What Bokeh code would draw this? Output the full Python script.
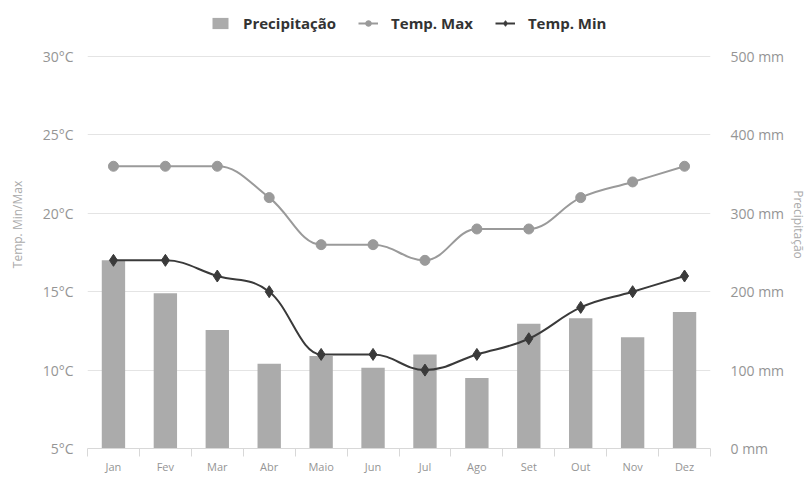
from bokeh.plotting import figure
from bokeh.models import (Range1d, LinearAxis, FixedTicker, PrintfTickFormatter,
                          Legend, LegendItem, ColumnDataSource)
from bokeh.embed import file_html
from bokeh.resources import INLINE

months = ["Jan", "Fev", "Mar", "Abr", "Maio", "Jun", "Jul", "Ago", "Set", "Out", "Nov", "Dez"]
precip = [240, 198, 151, 108, 118, 103, 120, 90, 159, 166, 142, 174]
temp_max = [23, 23, 23, 21, 18, 18, 17, 19, 19, 21, 22, 23]
temp_min = [17, 17, 16, 15, 11, 11, 10, 11, 12, 14, 15, 16]
temp_ticks = [5, 10, 15, 20, 25, 30]
precip_ticks = [0, 100, 200, 300, 400, 500]

xs = list(range(1, len(months) + 1))
FONT = "Open Sans"

# layout: the plot frame is extended above the 30°C / 500 mm line to hold the legend
FRAME_H = 448
PX_PER_DEG = 392 / 25.0
PX_PER_MM = 392 / 500.0


def spline_segments(x, y, smoothing=1.5):
    n = len(x)
    lc = [None] * n
    rc = [None] * n
    for i in range(n):
        px, py = x[i], y[i]
        if i == 0 or i == n - 1:
            lc[i] = (px, py)
            rc[i] = (px, py)
            continue
        lx, ly = x[i - 1], y[i - 1]
        nx, ny = x[i + 1], y[i + 1]
        d = smoothing + 1
        lcx = (smoothing * px + lx) / d
        lcy = (smoothing * py + ly) / d
        rcx = (smoothing * px + nx) / d
        rcy = (smoothing * py + ny) / d
        if rcx != lcx:
            corr = ((rcy - lcy) * (rcx - px)) / (rcx - lcx) + py - rcy
            lcy += corr
            rcy += corr
        if lcy > ly and lcy > py:
            lcy = max(ly, py); rcy = 2 * py - lcy
        elif lcy < ly and lcy < py:
            lcy = min(ly, py); rcy = 2 * py - lcy
        if rcy > ny and rcy > py:
            rcy = max(ny, py); lcy = 2 * py - rcy
        elif rcy < ny and rcy < py:
            rcy = min(ny, py); lcy = 2 * py - rcy
        lc[i] = (lcx, lcy)
        rc[i] = (rcx, rcy)
    return dict(
        x0=x[:-1], y0=y[:-1], x1=x[1:], y1=y[1:],
        cx0=[rc[i][0] for i in range(n - 1)], cy0=[rc[i][1] for i in range(n - 1)],
        cx1=[lc[i + 1][0] for i in range(n - 1)], cy1=[lc[i + 1][1] for i in range(n - 1)],
    )


p = figure(frame_width=623, frame_height=FRAME_H, output_backend="svg", toolbar_location=None,
           x_range=Range1d(0.5, 12.5),
           y_range=Range1d(temp_ticks[0], temp_ticks[0] + FRAME_H / PX_PER_DEG),
           min_border_left=87, min_border_right=95, min_border_top=0, min_border_bottom=29)
p.outline_line_color = None
p.background_fill_color = "white"
p.border_fill_color = "white"
p.extra_y_ranges = {"precip": Range1d(precip_ticks[0], precip_ticks[0] + FRAME_H / PX_PER_MM)}

# grid
p.xgrid.grid_line_color = None
p.ygrid.grid_line_color = "#e4e4e4"
p.ygrid.grid_line_width = 1
p.ygrid.ticker = FixedTicker(ticks=temp_ticks)

# x axis
xa = p.xaxis[0]
xa.ticker = FixedTicker(ticks=xs, minor_ticks=[v + 0.5 for v in range(0, 13)])
xa.major_label_overrides = {i + 1: m for i, m in enumerate(months)}
xa.major_tick_line_color = None
xa.major_tick_out = 0
xa.minor_tick_line_color = "#d8d8d8"
xa.minor_tick_in = 0
xa.minor_tick_out = 8
xa.axis_line_color = "#d8d8d8"
xa.major_label_text_font = FONT
xa.major_label_text_font_size = "11px"
xa.major_label_text_color = "#959595"
xa.major_label_standoff = 2

# left axis
ya = p.yaxis[0]
ya.ticker = FixedTicker(ticks=temp_ticks)
ya.formatter = PrintfTickFormatter(format="%d°C")
ya.axis_line_color = None
ya.major_tick_line_color = None
ya.major_tick_out = 0
ya.minor_tick_line_color = None
ya.major_label_standoff = 14
ya.major_label_text_font = FONT
ya.major_label_text_font_size = "14px"
ya.major_label_text_color = "#959595"
ya.axis_label = "Temp. Min/Max"
ya.axis_label_text_font = FONT
ya.axis_label_text_font_size = "12px"
ya.axis_label_text_font_style = "normal"
ya.axis_label_text_color = "#aaaaaa"
ya.axis_label_standoff = 14

# right axis
ra = LinearAxis(y_range_name="precip", ticker=FixedTicker(ticks=precip_ticks),
                formatter=PrintfTickFormatter(format="%d mm"))
ra.axis_line_color = None
ra.major_tick_line_color = None
ra.major_tick_out = 0
ra.minor_tick_line_color = None
ra.major_label_standoff = 20
ra.major_label_text_font = FONT
ra.major_label_text_font_size = "14px"
ra.major_label_text_color = "#959595"
ra.axis_label = "Precipitação"
ra.axis_label_text_font = FONT
ra.axis_label_text_font_size = "12px"
ra.axis_label_text_font_style = "normal"
ra.axis_label_text_color = "#aaaaaa"
ra.axis_label_standoff = 3
p.add_layout(ra, "right")

# bars
src = ColumnDataSource(dict(x=xs, precip=precip, tmax=temp_max, tmin=temp_min))
bars = p.vbar(x="x", top="precip", bottom=0, width=0.45, source=src, y_range_name="precip",
              fill_color="#ababab", line_color=None)

# splines
smax = spline_segments(xs, temp_max)
smin = spline_segments(xs, temp_min)
bmax = p.bezier(x0="x0", y0="y0", x1="x1", y1="y1", cx0="cx0", cy0="cy0", cx1="cx1", cy1="cy1",
                source=ColumnDataSource(smax), line_color="#9a9a9a", line_width=2)
bmin = p.bezier(x0="x0", y0="y0", x1="x1", y1="y1", cx0="cx0", cy0="cy0", cx1="cx1", cy1="cy1",
                source=ColumnDataSource(smin), line_color="#3a3a3a", line_width=2)
cmax = p.scatter(x="x", y="tmax", source=src, marker="circle", size=10,
                 fill_color="#9a9a9a", line_color="#9a9a9a")
cmin = p.scatter(x="x", y="tmin", source=src, marker="diamond", size=12,
                 fill_color="#3a3a3a", line_color="#3a3a3a")

legend = Legend(items=[
    LegendItem(label="Precipitação", renderers=[bars]),
    LegendItem(label="Temp. Max", renderers=[bmax, cmax]),
    LegendItem(label="Temp. Min", renderers=[bmin, cmin]),
], orientation="horizontal", location=(123, FRAME_H - 33))
legend.label_text_font = FONT
legend.label_text_font_style = "bold"
legend.label_text_font_size = "15px"
legend.label_text_color = "#333333"
legend.border_line_color = None
legend.background_fill_alpha = 0
legend.glyph_width = 20
legend.glyph_height = 14
legend.label_standoff = 13
legend.spacing = 22
legend.padding = 2
legend.margin = 0
p.add_layout(legend, "center")

open("out.html", "w").write(file_html(p, INLINE))
